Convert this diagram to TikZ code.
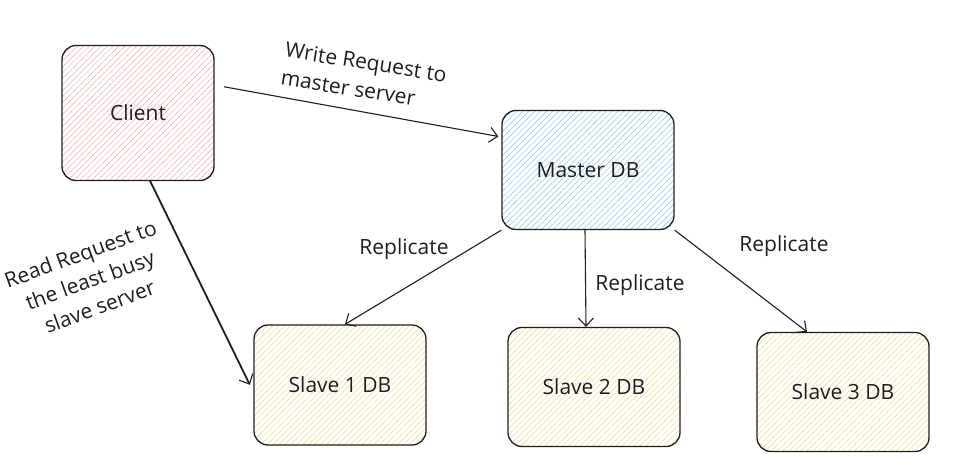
\documentclass[tikz,border=0pt]{standalone}
\usepackage{fontspec}
\setmainfont{Open Sans}
\usetikzlibrary{arrows.meta,patterns.meta}
\definecolor{hpink}{RGB}{242,165,175}
\definecolor{hblue}{RGB}{140,195,238}
\definecolor{hyellow}{RGB}{236,220,130}
\definecolor{ink}{RGB}{30,30,30}

\begin{document}
\begin{tikzpicture}[x=1pt, y=1pt,
	box/.style={draw=ink, line width=1.3pt, rounded corners=14pt, minimum width=172pt, minimum height=119pt, font=\fontsize{21}{26}\selectfont, text=ink},
	hatch/.style={pattern={Lines[angle=45, distance=4.2pt, line width=0.5pt]}, pattern color=#1},
	link/.style={draw=ink, line width=1.1pt, -{Straight Barb[length=8pt, width=15pt, line width=1.1pt]}},
	lbl/.style={font=\fontsize{21}{28}\selectfont, text=ink, align=center}]
	\useasboundingbox (0, 0) rectangle (956, 468);

	\node[box, hatch=hpink, minimum width=152pt, minimum height=135pt] (c) at (138, 355) {Client};
	\node[box, hatch=hblue] (m) at (588, 298) {Master DB};
	\node[box, hatch=hyellow, minimum height=120pt] (s1) at (340, 83) {Slave 1 DB};
	\node[box, hatch=hyellow] (s2) at (594, 81) {Slave 2 DB};
	\node[box, hatch=hyellow] (s3) at (843, 76) {Slave 3 DB};

	\draw[link, shorten <=10pt, shorten >=3pt] ([yshift=28]c.east) -- ([yshift=33]m.west);
	\draw[link, line width=1.8pt, shorten >=8pt] ([xshift=12]c.south) -- ([yshift=-7]s1.west);
	\draw[link] (m.south west) -- ([xshift=5]s1.north);
	\draw[link] ([xshift=-3]m.south) -- ([xshift=-8]s2.north);
	\draw[link] (m.south east) -- ([xshift=-36]s3.north);

	\node[lbl, align=left, rotate=-9] (w) at (364, 392) {Write Request to\\master server};
	\node[lbl, rotate=20] (r) at (90, 188) {Read Request to\\the least busy\\slave server};
	\node[lbl] (r1) at (404, 219) {Replicate};
	\node[lbl] (r2) at (640, 183) {Replicate};
	\node[lbl] (r3) at (784, 222) {Replicate};
\end{tikzpicture}
\end{document}
